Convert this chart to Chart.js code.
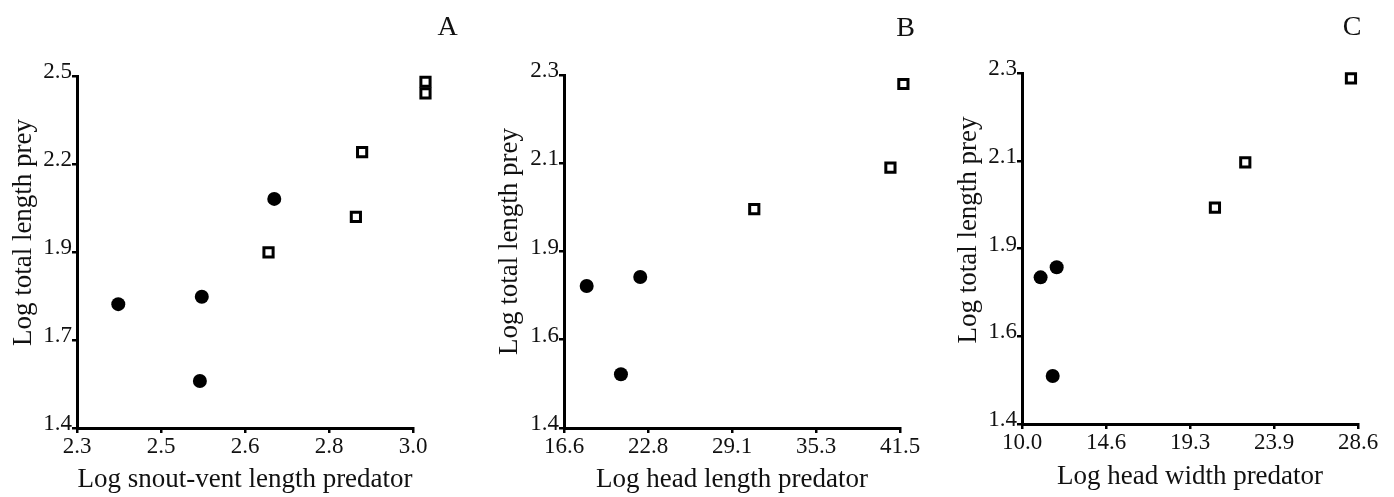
<!DOCTYPE html>
<html>
<head>
<meta charset="utf-8">
<script src="https://cdn.jsdelivr.net/npm/chart.js@4/dist/chart.umd.min.js"></script>
<style>
  html, body { margin: 0; padding: 0; background: #fff; }
  #wrap { position: relative; width: 1394px; height: 497px; overflow: hidden; }
  canvas { position: absolute; top: 0; }
</style>
</head>
<body>
<div id="wrap">
  <canvas id="cA" width="470" height="497" style="left:0px"></canvas>
  <canvas id="cB" width="460" height="497" style="left:470px"></canvas>
  <canvas id="cC" width="464" height="497" style="left:930px"></canvas>
</div>
<script>
// ---- Panel A data ----
const aCircleX = [2.386, 2.560, 2.556, 2.711];
const aCircleY = [1.787, 1.810, 1.547, 2.116];
const aSquareX = [3.026, 2.699, 2.881, 2.894, 3.026];
const aSquareY = [2.482, 1.949, 2.060, 2.262, 2.446];
const aXTicks = ['2.3', '2.5', '2.6', '2.8', '3.0'];
const aYTicks = ['1.4', '1.7', '1.9', '2.2', '2.5'];

// ---- Panel B data ----
const bCircleX = [18.28, 20.82, 22.25];
const bCircleY = [1.762, 1.537, 1.785];
const bSquareX = [41.75, 30.70, 40.79];
const bSquareY = [2.277, 1.958, 2.064];
const bXTicks = ['16.6', '22.8', '29.1', '35.3', '41.5'];
const bYTicks = ['1.4', '1.6', '1.9', '2.1', '2.3'];

// ---- Panel C data ----
const cCircleX = [11.03, 11.92, 11.70];
const cCircleY = [1.776, 1.802, 1.523];
const cSquareX = [28.21, 20.68, 22.36];
const cSquareY = [2.286, 1.955, 2.071];
const cXTicks = ['10.0', '14.6', '19.3', '23.9', '28.6'];
const cYTicks = ['1.4', '1.6', '1.9', '2.1', '2.3'];

const yTitle = 'Log total length prey';
const SERIF = '"Liberation Serif", "Times New Roman", serif';

function pts(xs, ys) { return xs.map((x, i) => ({ x: x, y: ys[i] })); }

// Let markers that sit just past the axis end still be drawn (as in the original figure)
const widenDrawArea = {
  id: 'widenDrawArea',
  beforeDatasetsDraw(chart) {
    const a = chart.chartArea;
    chart.$savedArea = { left: a.left, right: a.right, top: a.top, bottom: a.bottom };
    a.right += 40; a.top -= 30;
  },
  afterDatasetsDraw(chart) {
    Object.assign(chart.chartArea, chart.$savedArea);
  }
};

const panelText = {
  id: 'panelText',
  afterDraw(chart, args, opts) {
    const ctx = chart.ctx;
    ctx.save();
    ctx.fillStyle = '#111';
    ctx.font = '28px ' + SERIF;
    ctx.textAlign = 'center';
    ctx.textBaseline = 'alphabetic';
    ctx.fillText(opts.letter, opts.letterX, opts.letterY);
    ctx.font = '27px ' + SERIF;
    ctx.translate(opts.yTitleX, opts.yTitleY);
    ctx.rotate(-Math.PI / 2);
    ctx.textAlign = 'center';
    ctx.textBaseline = 'alphabetic';
    ctx.fillText(opts.yTitle, 0, 0);
    ctx.restore();
  }
};

function makePanel(id, cfg) {
  const evenTicks = (scale) => {
    const min = scale.options.min, max = scale.options.max;
    const t = [];
    for (let i = 0; i < 5; i++) t.push({ value: min + (max - min) * i / 4 });
    scale.ticks = t;
  };
  const axisGrid = { display: true, drawOnChartArea: false, drawTicks: true, tickLength: 5, color: '#000', lineWidth: 2.5 };
  new Chart(document.getElementById(id), {
    type: 'scatter',
    data: {
      datasets: [
        {
          data: pts(cfg.circX, cfg.circY),
          pointStyle: 'circle', pointRadius: 7, pointHoverRadius: 7,
          backgroundColor: '#000', borderColor: '#000', borderWidth: 0,
          clip: false
        },
        {
          data: pts(cfg.sqX, cfg.sqY),
          pointStyle: 'rect', pointRadius: 6.5, pointHoverRadius: 6.5,
          backgroundColor: '#fff', borderColor: '#000', borderWidth: 3,
          clip: false
        }
      ]
    },
    options: {
      responsive: false,
      devicePixelRatio: 1,
      animation: false,
      events: [],
      layout: { padding: { left: 0, right: cfg.padRight, top: cfg.padTop, bottom: 0 } },
      plugins: {
        legend: { display: false },
        tooltip: { enabled: false },
        panelText: {
          letter: cfg.letter, letterX: cfg.letterX, letterY: cfg.letterY,
          yTitle: yTitle, yTitleX: cfg.yTitleX, yTitleY: cfg.yTitleY
        }
      },
      scales: {
        x: {
          type: 'linear', min: cfg.xMin, max: cfg.xMax,
          afterBuildTicks: evenTicks,
          afterFit: (s) => { s.height = cfg.xHeight; },
          border: { display: true, color: '#000', width: 3 },
          grid: axisGrid,
          ticks: {
            color: '#111', padding: 0, maxRotation: 0, autoSkip: false,
            font: { family: SERIF, size: 23 },
            callback: (v, i) => cfg.xTicks[i]
          },
          title: {
            display: true, text: cfg.xTitle, color: '#111',
            font: { family: SERIF, size: 27 },
            padding: { top: 0, bottom: cfg.xTitlePad }
          }
        },
        y: {
          type: 'linear', min: cfg.yMin, max: cfg.yMax,
          afterBuildTicks: evenTicks,
          afterFit: (s) => { s.width = cfg.yWidth; },
          border: { display: true, color: '#000', width: 3 },
          grid: axisGrid,
          ticks: {
            color: '#111', padding: 0, labelOffset: -4, autoSkip: false,
            font: { family: SERIF, size: 23 },
            callback: (v, i) => cfg.yTicks[i]
          }
        }
      }
    },
    plugins: [panelText, widenDrawArea]
  });
}

makePanel('cA', {
  circX: aCircleX, circY: aCircleY, sqX: aSquareX, sqY: aSquareY,
  xTicks: aXTicks, yTicks: aYTicks,
  xMin: 2.3, xMax: 3.0, yMin: 1.4, yMax: 2.5,
  xTitle: 'Log snout-vent length predator',
  padRight: 57, padTop: 76, yWidth: 77, xHeight: 69, xTitlePad: 1,
  letter: 'A', letterX: 447.5, letterY: 35,
  yTitleX: 31, yTitleY: 232.5
});

makePanel('cB', {
  circX: bCircleX, circY: bCircleY, sqX: bSquareX, sqY: bSquareY,
  xTicks: bXTicks, yTicks: bYTicks,
  xMin: 16.6, xMax: 41.5, yMin: 1.4, yMax: 2.3,
  xTitle: 'Log head length predator',
  padRight: 30, padTop: 75, yWidth: 94, xHeight: 69, xTitlePad: 1,
  letter: 'B', letterX: 435.5, letterY: 36,
  yTitleX: 47, yTitleY: 241.5
});

makePanel('cC', {
  circX: cCircleX, circY: cCircleY, sqX: cSquareX, sqY: cSquareY,
  xTicks: cXTicks, yTicks: cYTicks,
  xMin: 10.0, xMax: 28.6, yMin: 1.4, yMax: 2.3,
  xTitle: 'Log head width predator',
  padRight: 36, padTop: 73, yWidth: 92, xHeight: 73, xTitlePad: 4,
  letter: 'C', letterX: 422, letterY: 35,
  yTitleX: 46, yTitleY: 230
});
</script>
</body>
</html>
